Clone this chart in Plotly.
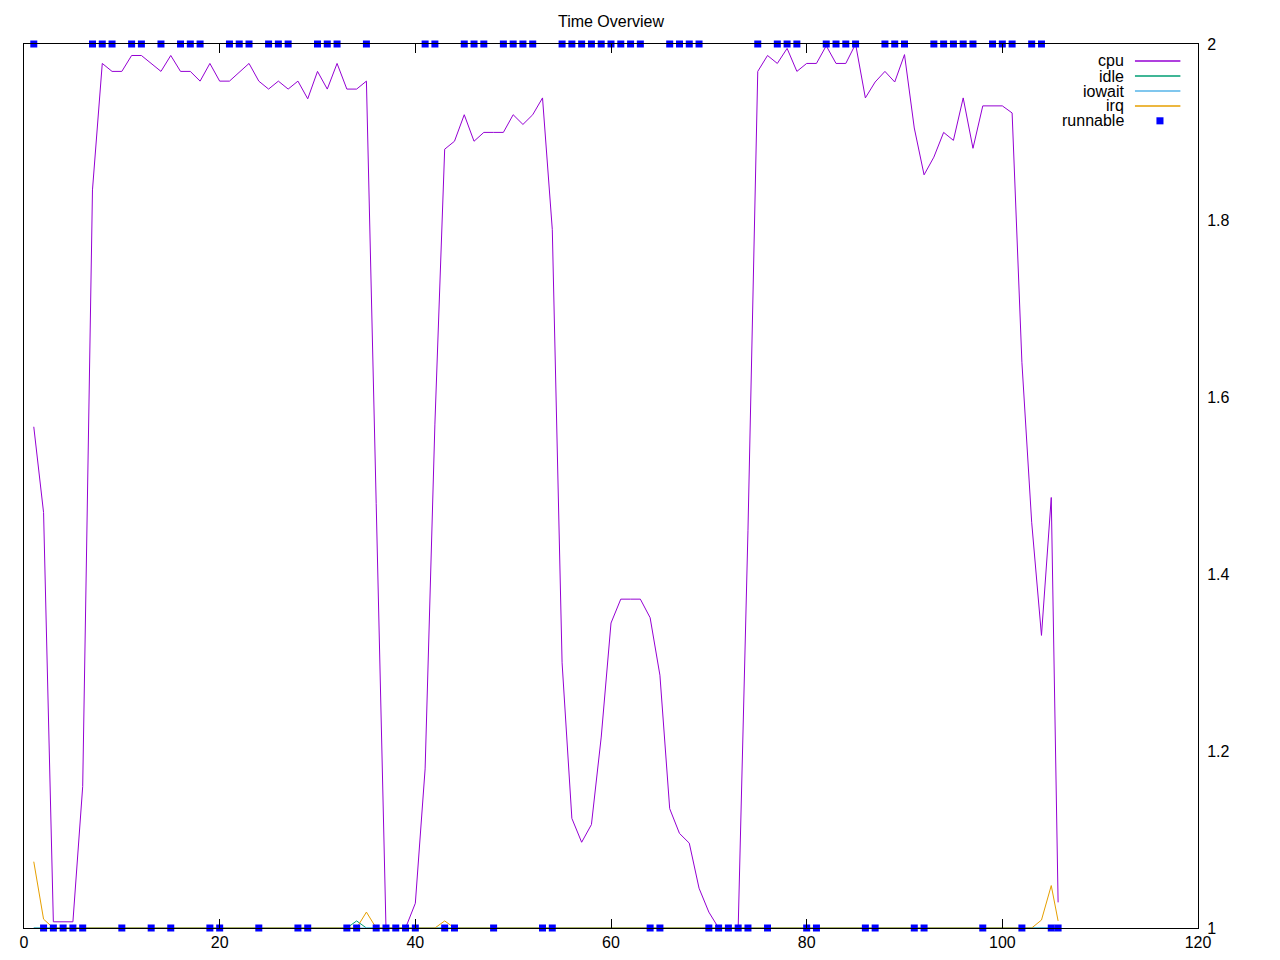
import plotly.graph_objects as go

# ---- data -------------------------------------------------------------
x_vals = [1, 2, 3, 4, 5, 6, 7, 8, 9, 10,
          11, 12, 13, 14, 15, 16, 17, 18, 19, 20,
          21, 22, 23, 24, 25, 26, 27, 28, 29, 30,
          31, 32, 33, 34, 35, 36, 37, 38, 39, 40,
          41, 42, 43, 44, 45, 46, 47, 48, 49, 50,
          51, 52, 53, 54, 55, 56, 57, 58, 59, 60,
          61, 62, 63, 64, 65, 66, 67, 68, 69, 70,
          71, 72, 73, 74, 75, 76, 77, 78, 79, 80,
          81, 82, 83, 84, 85, 86, 87, 88, 89, 90,
          91, 92, 93, 94, 95, 96, 97, 98, 99, 100,
          101, 102, 103, 104, 105, 105.7]

cpu = [1.567, 1.47, 1.007, 1.007, 1.007, 1.16, 1.835, 1.978, 1.969, 1.969,
       1.987, 1.987, 1.978, 1.969, 1.987, 1.969, 1.969, 1.958, 1.978, 1.958,
       1.958, 1.968, 1.978, 1.958, 1.949, 1.958, 1.949, 1.958, 1.938, 1.969,
       1.949, 1.978, 1.949, 1.949, 1.958, 1.48, 1.0, 1.0, 1.0, 1.028,
       1.18, 1.57, 1.881, 1.890, 1.920, 1.890, 1.900, 1.900, 1.900, 1.920,
       1.909, 1.920, 1.939, 1.790, 1.300, 1.124, 1.097, 1.117, 1.216, 1.345,
       1.372, 1.372, 1.372, 1.351, 1.286, 1.135, 1.107, 1.096, 1.045, 1.018,
       1.0, 1.0, 1.0, 1.45, 1.969, 1.987, 1.978, 1.995, 1.969, 1.978,
       1.978, 1.998, 1.978, 1.978, 2.0, 1.939, 1.957, 1.969, 1.957, 1.988,
       1.905, 1.852, 1.872, 1.900, 1.891, 1.939, 1.882, 1.930, 1.930, 1.930,
       1.922, 1.64, 1.459, 1.331, 1.487, 1.029]

idle = [1.0] * 33 + [1.008] + [1.0] * 72

iowait = [1.0] * 106

irq = ([1.075, 1.01] + [1.0] * 32 + [1.018] + [1.0] * 7 + [1.008]
       + [1.0] * 60 + [1.009, 1.048, 1.008])

runnable = [2, 1, 1, 1, 1, 1, 2, 2, 2, 1,
            2, 2, 1, 2, 1, 2, 2, 2, 1, 1,
            2, 2, 2, 1, 2, 2, 2, 1, 1, 2,
            2, 2, 1, 1, 2, 1, 1, 1, 1, 1,
            2, 2, 1, 1, 2, 2, 2, 1, 2, 2,
            2, 2, 1, 1, 2, 2, 2, 2, 2, 2,
            2, 2, 2, 1, 1, 2, 2, 2, 2, 1,
            1, 1, 1, 1, 2, 1, 2, 2, 2, 1,
            1, 2, 2, 2, 2, 1, 1, 2, 2, 2,
            1, 1, 2, 2, 2, 2, 2, 1, 2, 2,
            2, 1, 2, 2, 1, 1]

series_names = ["cpu", "idle", "iowait", "irq", "runnable"]
series_colors = ["#9400d3", "#009e73", "#56b4e9", "#e69f00", "#0000ff"]

x_ticks = [0, 20, 40, 60, 80, 100, 120]
y_ticks = [1, 1.2, 1.4, 1.6, 1.8, 2]

FONT = "Liberation Sans, Arial, sans-serif"

# page body has an 8px default margin; figure is sized to fit 1280x960
FIG_W, FIG_H = 1264, 944

# ---- figure -----------------------------------------------------------
fig = go.Figure()
line_series = [cpu, idle, iowait, irq]
for name, vals, col in zip(series_names[:4], line_series, series_colors[:4]):
    fig.add_trace(go.Scatter(x=x_vals, y=vals, mode="lines", name=name,
                             line=dict(color=col, width=1),
                             showlegend=False))

fig.add_trace(go.Scatter(x=x_vals, y=runnable, mode="markers", name="runnable",
                         marker=dict(symbol="square", size=7, color=series_colors[4],
                                     line=dict(width=0)),
                         cliponaxis=False, showlegend=False))

# gnuplot-style legend (text right-aligned, sample to the right)
legend_y = [0.9808, 0.9638, 0.9468, 0.9299, 0.9129]
for i, (name, col) in enumerate(zip(series_names, series_colors)):
    fig.add_annotation(x=0.9387, y=legend_y[i], xref="paper", yref="paper",
                       text=name, showarrow=False, xanchor="right",
                       yanchor="middle", font=dict(family=FONT, size=16, color="#000000"))
    if i < 4:
        fig.add_shape(type="line", xref="paper", yref="paper",
                      x0=0.9463, x1=0.9850, y0=legend_y[i], y1=legend_y[i],
                      line=dict(color=col, width=1.5))
    else:
        fig.add_shape(type="rect", xref="paper", yref="paper",
                      x0=0.9646, x1=0.9706, y0=legend_y[i] - 0.0038,
                      y1=legend_y[i] + 0.0042,
                      fillcolor=col, line=dict(width=0))

fig.update_layout(
    width=FIG_W, height=FIG_H,
    margin=dict(l=16, r=74, t=36, b=24, autoexpand=False),
    paper_bgcolor="white", plot_bgcolor="white",
    font=dict(family=FONT, size=16, color="#000000"),
    title=dict(text="Time Overview", x=0.5, xref="paper", xanchor="center",
               y=1 - 13 / FIG_H, yref="container", yanchor="middle",
               font=dict(family=FONT, size=16, color="#000000")),
    showlegend=False,
)

fig.update_xaxes(range=[0, 120], tickvals=x_ticks, ticktext=[str(v) for v in x_ticks],
                 showgrid=False, zeroline=False,
                 showline=True, linecolor="black", linewidth=1, mirror="ticks",
                 ticks="inside", ticklen=9, tickcolor="black", tickwidth=1,
                 tickfont=dict(family=FONT, size=16, color="#000000"))

fig.update_yaxes(range=[1, 2], tickvals=y_ticks, ticktext=["1", "1.2", "1.4", "1.6", "1.8", "2"],
                 side="right", showgrid=False, zeroline=False,
                 showline=True, linecolor="black", linewidth=1, mirror=True,
                 ticks="", ticklabelstandoff=5,
                 tickfont=dict(family=FONT, size=16, color="#000000"))

fig.write_html("out.html")
